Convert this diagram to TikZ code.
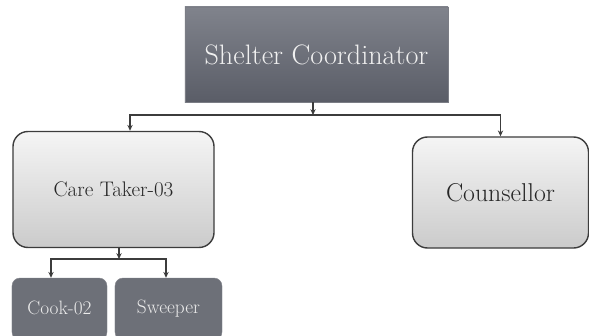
\documentclass[tikz,border=0pt]{standalone}
\usetikzlibrary{arrows.meta}
\definecolor{darkbox}{HTML}{6D7078}
\definecolor{darktop}{HTML}{80838C}
\definecolor{darkbot}{HTML}{5A5D67}
\definecolor{lightbot}{HTML}{CBCBCB}
\definecolor{edgegray}{HTML}{3C3C3C}
\tikzset{
  headbox/.style={rectangle, top color=darktop, bottom color=darkbot, draw=darkbot!80!white,
    text=white!94!black, minimum width=7.89cm, minimum height=2.85cm, inner sep=0pt,
    font=\fontsize{24}{28}\selectfont},
  midbox/.style={rectangle, rounded corners=0.45cm, top color=white!96!black, bottom color=lightbot,
    draw=edgegray, line width=1.2pt, text=black!85, minimum height=3.4cm, inner sep=0pt},
  lowbox/.style={rectangle, rounded corners=0.24cm, fill=darkbox, draw=darkbox!85!white,
    text=white!92!black, minimum height=1.86cm, inner sep=0pt,
    font=\fontsize{16.5}{19}\selectfont},
  conn/.style={draw=edgegray, line width=1.1pt, -{Stealth[length=5pt,width=4.5pt]}}
}
\begin{document}
\begin{tikzpicture}[x=0.03cm, y=-0.03cm]
  \useasboundingbox (0,0) rectangle (589,335);
  \draw
    (316.5,54.5) node[headbox] (coord){\raisebox{-2pt}{Shelter Coordinator}}
    (113.5,189.5) node[midbox, minimum width=6.03cm, minimum height=3.48cm,
      font=\fontsize{18}{22}\selectfont] (care){Care Taker-03}
    (500.5,192.5) node[midbox, minimum width=5.28cm, minimum height=3.33cm,
      font=\fontsize{22}{26}\selectfont] (couns){Counsellor}
    (59.5,309) node[lowbox, minimum width=2.85cm] (cook){\raisebox{3pt}{Cook-02}}
    (168.5,309) node[lowbox, minimum width=3.21cm] (sweep){\raisebox{3pt}{Sweeper}};
  \coordinate (topbus) at (313,115);
  \coordinate (carebus) at (119,259);
  \begin{scope}[conn]
    \draw (coord.south -| topbus) to (topbus);
    \draw (topbus) -| ([xshift=0.495cm]care.north);
    \draw (topbus) -| (couns.north);
    \draw (care.south -| carebus) to (carebus);
    \draw (carebus) -| ([xshift=-0.255cm]cook.north);
    \draw (carebus) -| ([xshift=-0.075cm]sweep.north);
  \end{scope}
\end{tikzpicture}
\end{document}
